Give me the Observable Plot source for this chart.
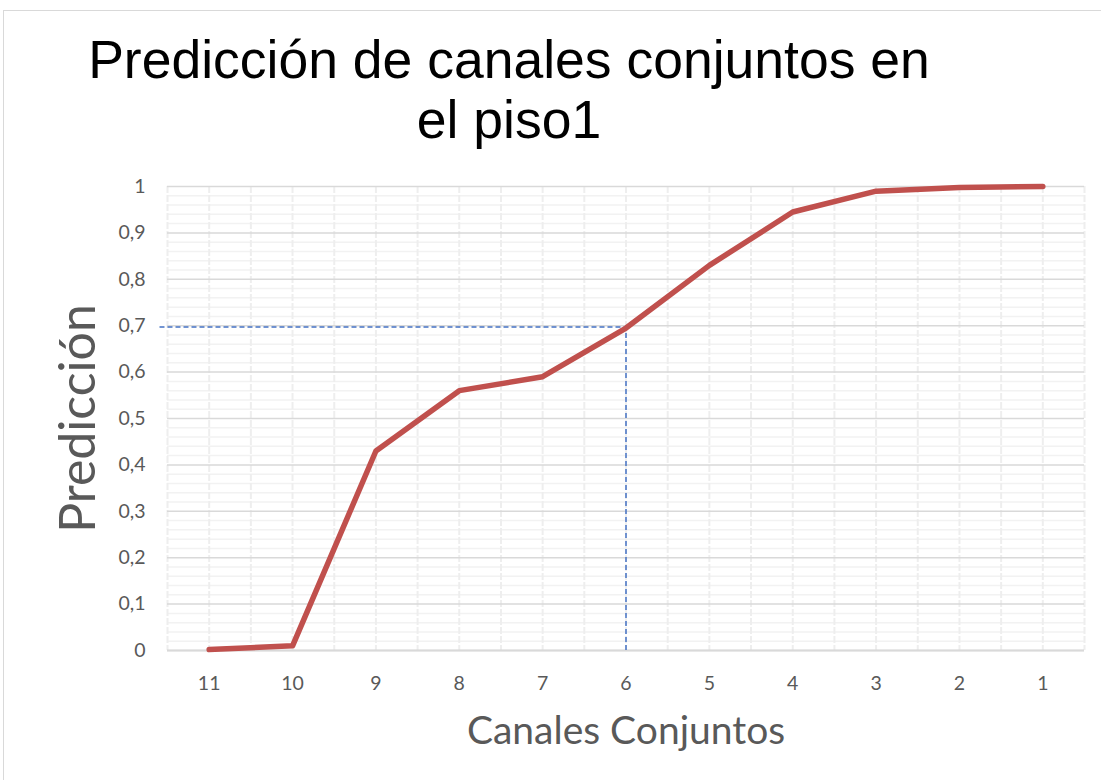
<!DOCTYPE html>
<html>
<head>
<meta charset="utf-8">
<script src="https://cdn.jsdelivr.net/npm/d3@7"></script>
<script src="https://cdn.jsdelivr.net/npm/@observablehq/plot@0.6"></script>
<style>
  html, body { margin: 0; padding: 0; background: #fff; }
  #wrap { position: relative; width: 1101px; height: 780px; overflow: hidden; }
  #frame { position: absolute; left: 3px; top: 10px; width: 1120px; height: 800px; border: 1px solid #d9d9d9; box-sizing: border-box; }
  #title { position: absolute; left: 0; top: 30px; width: 1018px; text-align: center; font-family: "Liberation Sans", Arial, sans-serif; font-size: 53.5px; line-height: 60px; color: #000; }
  #chart { position: absolute; left: 0; top: 0; }
  #chart svg text { font-family: Lato, "Open Sans", sans-serif; }
</style>
</head>
<body>
<div id="wrap">
  <div id="frame"></div>
  <div id="title">Predicción de canales conjuntos en<br>el piso1</div>
  <div id="chart"></div>
</div>
<script>
// Data
const canales = [11, 10, 9, 8, 7, 6, 5, 4, 3, 2, 1];
const prediccion = [0.002, 0.01, 0.43, 0.56, 0.59, 0.695, 0.83, 0.945, 0.99, 0.998, 1.0];
const yTicks = [0, 0.1, 0.2, 0.3, 0.4, 0.5, 0.6, 0.7, 0.8, 0.9, 1];
const marcaCanal = 6;
const marcaValor = 0.697;

const data = canales.map((c, i) => ({canal: c, pred: prediccion[i]}));
const xMin = d3.min(canales) - 0.5, xMax = d3.max(canales) + 0.5;
const vGrid = d3.range(xMin, xMax + 0.001, 0.5);
const minorY = d3.range(0, 1.0001, 0.02).filter(v => Math.abs(Math.round(v * 10) - v * 10) > 1e-6);

const plot = Plot.plot({
  width: 1101,
  height: 780,
  marginLeft: 167,
  marginRight: 17,
  marginTop: 186,
  marginBottom: 130,
  x: {domain: [xMax, xMin], ticks: canales, tickFormat: d => String(d), tickSize: 0, tickPadding: 26, label: null},
  y: {domain: [0, 1], ticks: yTicks, tickFormat: d => String(d).replace(".", ","), tickSize: 0, tickPadding: 22, label: null},
  marks: [
    Plot.ruleY(minorY, {stroke: "#f2f2f2", strokeWidth: 1.5}),
    Plot.ruleX(vGrid, {stroke: "#eeeeee", strokeWidth: 2, strokeDasharray: "7,2"}),
    Plot.ruleY(yTicks, {stroke: "#d9d9d9", strokeWidth: 1.5}),
    Plot.ruleY([0], {stroke: "#d9d9d9", strokeWidth: 2}),
    Plot.ruleY([marcaValor], {x1: xMax + 0.09, x2: marcaCanal, stroke: "#4472c4", strokeWidth: 1.5, strokeDasharray: "5,3", clip: false}),
    Plot.ruleX([marcaCanal], {y1: 0, y2: marcaValor, stroke: "#4472c4", strokeWidth: 1.5, strokeDasharray: "5,3"}),
    Plot.line(data, {x: "canal", y: "pred", stroke: "#c0504d", strokeWidth: 5.5, strokeLinecap: "round", strokeLinejoin: "round"}),
    Plot.text(["Predicción"], {frameAnchor: "left", dx: -89, rotate: -90, textAnchor: "middle", fontSize: 50, fill: "#595959"}),
    Plot.text(["Canales Conjuntos"], {frameAnchor: "bottom", dy: 93, fontSize: 39, fill: "#595959"})
  ],
  style: {fontSize: "19.5px", color: "#595959", background: "transparent", overflow: "visible"}
});
plot.querySelectorAll('[aria-label="x-axis tick label"] text, [aria-label="y-axis tick label"] text').forEach(t => t.setAttribute("fill", "#595959"));
document.getElementById("chart").appendChild(plot);
</script>
</body>
</html>
